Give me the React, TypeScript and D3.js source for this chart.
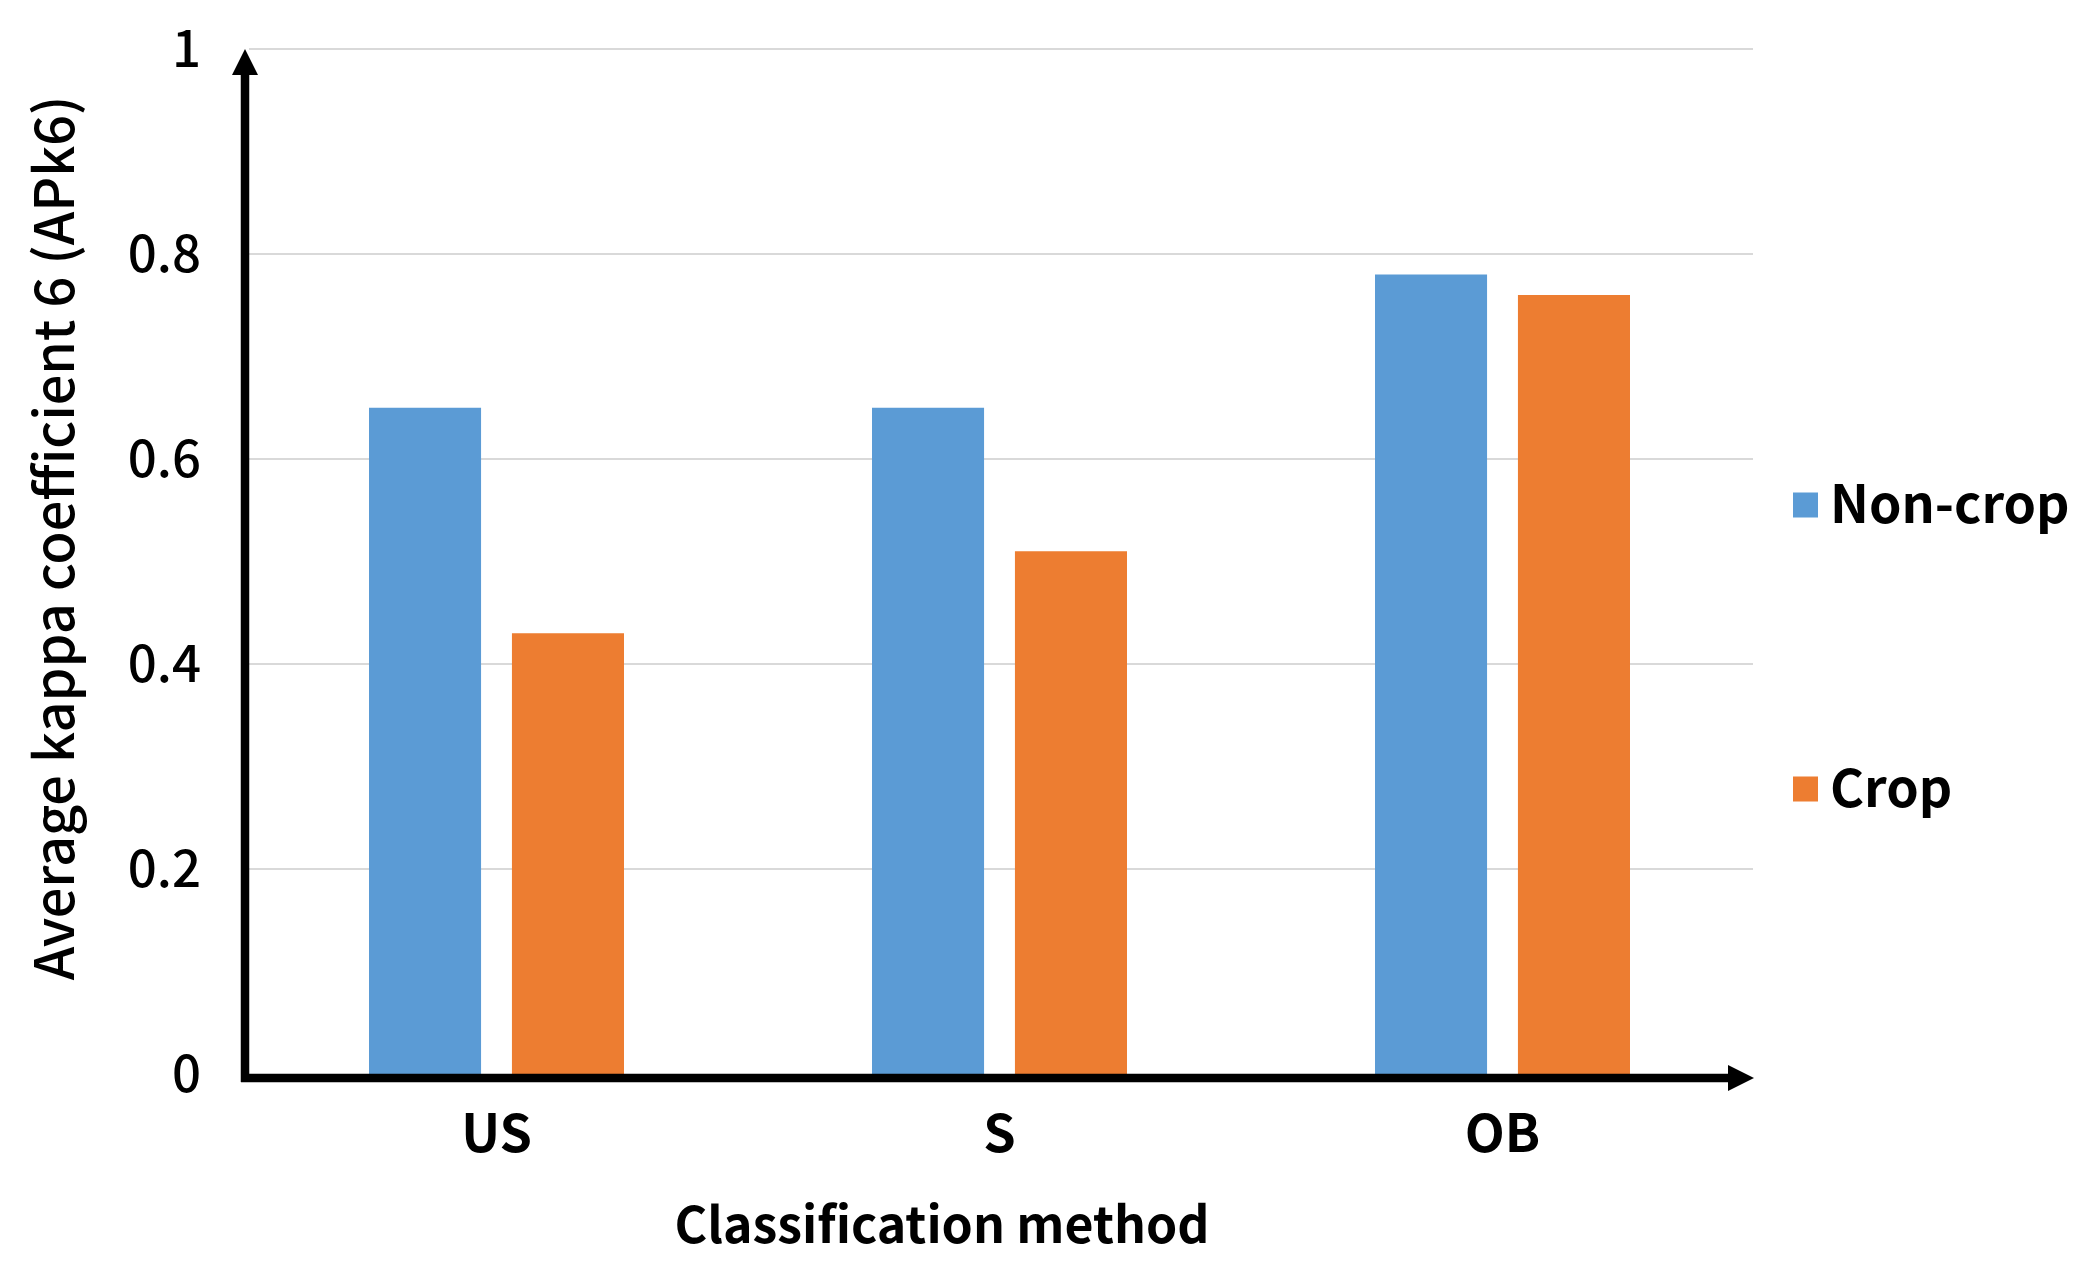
import React, { useEffect, useRef } from "react";
import * as d3 from "d3";

const categories = ["US", "S", "OB"];
const seriesNames = ["Non-crop", "Crop"];
const nonCropValues = [0.65, 0.65, 0.78];
const cropValues = [0.43, 0.51, 0.76];
const yTicks = [0, 0.2, 0.4, 0.6, 0.8, 1];
const yTickLabels = ["0", "0.2", "0.4", "0.6", "0.8", "1"];
const seriesColors = ["#5B9BD5", "#ED7D31"];
const yTitle = "Average kappa coefficient 6 (APk6)";
const xTitle = "Classification method";

const W = 2095;
const H = 1270;
const FONT = "'Noto Sans CJK SC', 'Noto Sans', sans-serif";

export default function App() {
  const ref = useRef<SVGSVGElement | null>(null);

  useEffect(() => {
    const svg = d3.select(ref.current);
    svg.selectAll("*").remove();

    const x0 = 245;
    const x1 = 1754;
    const y = d3.scaleLinear().domain([0, 1]).range([1074, 49]);
    const xBand = d3.scaleBand<string>().domain(categories).range([x0, x1]).padding(0);
    const inner = d3
      .scaleBand<string>()
      .domain(seriesNames)
      .range([124, xBand.bandwidth() - 124])
      .paddingInner(0.216)
      .paddingOuter(0);

    // gridlines
    svg
      .append("g")
      .selectAll("line")
      .data(yTicks.filter((t) => t > 0))
      .join("line")
      .attr("x1", x0 + 4)
      .attr("x2", 1753)
      .attr("y1", (d) => y(d))
      .attr("y2", (d) => y(d))
      .attr("stroke", "#d9d9d9")
      .attr("stroke-width", 2);

    // bars
    const table = categories.map((c, i) => ({
      cat: c,
      vals: [
        { s: seriesNames[0], v: nonCropValues[i], color: seriesColors[0] },
        { s: seriesNames[1], v: cropValues[i], color: seriesColors[1] },
      ],
    }));
    const groups = svg
      .append("g")
      .selectAll("g")
      .data(table)
      .join("g")
      .attr("transform", (d) => `translate(${xBand(d.cat)},0)`);
    groups
      .selectAll("rect")
      .data((d) => d.vals)
      .join("rect")
      .attr("x", (d) => inner(d.s)!)
      .attr("width", inner.bandwidth())
      .attr("y", (d) => y(d.v))
      .attr("height", (d) => y(0) - y(d.v))
      .attr("fill", (d) => d.color);

    // axes with arrows
    const axisY = 1078;
    svg
      .append("line")
      .attr("x1", x0)
      .attr("x2", x0)
      .attr("y1", axisY + 4)
      .attr("y2", 70)
      .attr("stroke", "#000")
      .attr("stroke-width", 8.5);
    svg
      .append("path")
      .attr("d", `M${x0},49 L${x0 - 13},75 L${x0 + 13},75 Z`)
      .attr("fill", "#000");
    svg
      .append("line")
      .attr("x1", x0 - 4)
      .attr("x2", 1735)
      .attr("y1", axisY)
      .attr("y2", axisY)
      .attr("stroke", "#000")
      .attr("stroke-width", 8.5);
    svg
      .append("path")
      .attr("d", `M1754,${axisY} L1728,${axisY - 13} L1728,${axisY + 13} Z`)
      .attr("fill", "#000");

    // y tick labels
    svg
      .append("g")
      .selectAll("text")
      .data(yTicks)
      .join("text")
      .attr("x", 201)
      .attr("y", (d) => y(d) + 18)
      .attr("text-anchor", "end")
      .attr("font-family", FONT)
      .attr("font-weight", 500)
      .attr("font-size", 51)
      .attr("fill", "#000")
      .text((d, i) => yTickLabels[i]);

    // category labels
    svg
      .append("g")
      .selectAll("text")
      .data(categories)
      .join("text")
      .attr("x", (d) => xBand(d)! + xBand.bandwidth() / 2)
      .attr("y", 1152)
      .attr("text-anchor", "middle")
      .attr("font-family", FONT)
      .attr("font-weight", 700)
      .attr("font-size", 52)
      .attr("fill", "#000")
      .text((d) => d);

    // x title
    svg
      .append("text")
      .attr("x", 942)
      .attr("y", 1243)
      .attr("text-anchor", "middle")
      .attr("font-family", FONT)
      .attr("font-weight", 700)
      .attr("font-size", 50)
      .attr("fill", "#000")
      .text(xTitle);

    // y title
    svg
      .append("text")
      .attr("transform", "translate(74,538) rotate(-90)")
      .attr("text-anchor", "middle")
      .attr("font-family", FONT)
      .attr("font-weight", 500)
      .attr("font-size", 54)
      .attr("fill", "#000")
      .text(yTitle);

    // legend
    const legendY = [505, 789];
    const lg = svg
      .append("g")
      .selectAll("g")
      .data(seriesNames)
      .join("g")
      .attr("transform", (d, i) => `translate(1793,${legendY[i]})`);
    lg.append("rect")
      .attr("x", 0)
      .attr("y", -12.5)
      .attr("width", 25)
      .attr("height", 25)
      .attr("fill", (d, i) => seriesColors[i]);
    lg.append("text")
      .attr("x", 37)
      .attr("y", 18)
      .attr("font-family", FONT)
      .attr("font-weight", 700)
      .attr("font-size", 52)
      .attr("fill", "#000")
      .text((d) => d);
  }, []);

  return (
    <svg
      ref={ref}
      width={W}
      height={H}
      viewBox={`0 0 ${W} ${H}`}
      style={{ position: "absolute", left: 0, top: 0, background: "#fff" }}
    />
  );
}
